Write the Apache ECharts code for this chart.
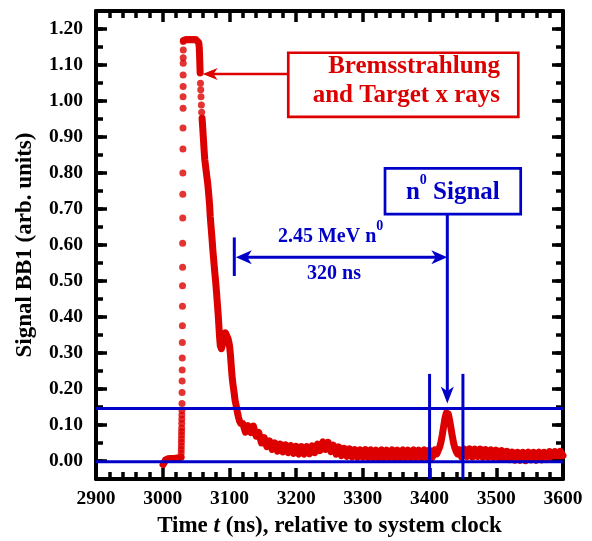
<!DOCTYPE html>
<html>
<head>
<meta charset="utf-8">
<script src="https://cdn.jsdelivr.net/npm/echarts@6/dist/echarts.min.js"></script>
<style>
  html, body { margin: 0; padding: 0; background: #fff; }
  #chart { width: 592px; height: 541px; }
</style>
</head>
<body>
<div id="chart"></div>
<script>
// ---- axes ----
const timeTicks = [2900, 3000, 3100, 3200, 3300, 3400, 3500, 3600];
const signalTicks = [0.00, 0.10, 0.20, 0.30, 0.40, 0.50, 0.60, 0.70, 0.80, 0.90, 1.00, 1.10, 1.20];

// ---- BB1 trace: [time (ns), signal (arb. units)] ----
// quiet level before the pulse
const baselineTrace = [
  [3000.5, -0.010], [3001.5, -0.012], [3002.5, -0.004], [3004, 0.003], [3006, 0.001],
  [3008, 0.006], [3010, 0.002], [3012, 0.007], [3014, 0.003], [3016, 0.007],
  [3018, 0.004], [3020, 0.008], [3022, 0.004], [3024, 0.008], [3026, 0.006], [3027.3, 0.010]
];
// fast rising edge (individual samples)
const risingEdge = [
  [3027.6, 0.012], [3027.7, 0.022], [3027.8, 0.032], [3027.9, 0.042], [3028.0, 0.052],
  [3028.1, 0.062], [3028.2, 0.072], [3028.3, 0.082], [3028.4, 0.092], [3028.5, 0.104],
  [3028.6, 0.116], [3028.7, 0.128], [3028.8, 0.140], [3028.9, 0.160], [3029.0, 0.190],
  [3029.1, 0.222], [3029.2, 0.253], [3029.3, 0.286], [3029.4, 0.329], [3029.5, 0.376],
  [3029.6, 0.430], [3029.7, 0.487], [3029.8, 0.538], [3029.9, 0.605], [3030.0, 0.675],
  [3030.1, 0.741], [3030.2, 0.800], [3030.3, 0.867], [3030.4, 0.925], [3030.5, 0.980],
  [3030.5, 1.012], [3030.6, 1.040], [3030.6, 1.072], [3030.7, 1.105], [3030.7, 1.120],
  [3030.8, 1.142], [3030.8, 1.165]
];
// saturated top and first drop
const plateauTrace = [
  [3031.2, 1.168], [3032.5, 1.170], [3035, 1.171], [3038, 1.170], [3041, 1.171],
  [3044, 1.170], [3047, 1.171], [3050, 1.170], [3052.5, 1.169], [3054, 1.162],
  [3054.8, 1.148], [3055.2, 1.130], [3055.5, 1.112], [3055.8, 1.095], [3056.1, 1.078]
];
// loose samples below the drop
const dropSamples = [
  [3056.6, 1.049], [3057.0, 1.031], [3057.4, 1.012], [3057.9, 0.989], [3058.4, 0.969]
];
// main decay
const decayTrace = [
  [3059, 0.952], [3060, 0.925], [3061, 0.895], [3062, 0.865], [3063, 0.838],
  [3064.5, 0.815], [3066, 0.792], [3067.5, 0.770], [3069, 0.740], [3070.3, 0.710],
  [3071.2, 0.680], [3072.5, 0.650], [3074, 0.615], [3075.2, 0.585], [3076.6, 0.555],
  [3078, 0.525], [3079.5, 0.495], [3080.8, 0.465], [3082, 0.435], [3083.2, 0.405],
  [3084.2, 0.375], [3085.2, 0.345], [3086.3, 0.320], [3088, 0.312], [3090, 0.326],
  [3092, 0.345], [3094, 0.356], [3096, 0.352], [3098, 0.340], [3100, 0.322],
  [3101.3, 0.300], [3102.3, 0.275], [3103.3, 0.250], [3104.3, 0.228], [3105.5, 0.210],
  [3107, 0.190], [3108.5, 0.168], [3110, 0.155], [3111, 0.146], [3112, 0.135],
  [3113.5, 0.122], [3115, 0.112], [3117, 0.104]
];
// noisy tail up to the neutron window
const tailTrace = [
  [3120, 0.104], [3124, 0.080], [3128, 0.098], [3132, 0.079], [3136, 0.097],
  [3140, 0.069], [3144, 0.079], [3148, 0.050], [3152, 0.065], [3156, 0.040],
  [3160, 0.056], [3164, 0.032], [3168, 0.050], [3172, 0.027], [3176, 0.047],
  [3180, 0.025], [3184, 0.045], [3188, 0.023], [3192, 0.043], [3196, 0.021],
  [3200, 0.041], [3204, 0.019], [3208, 0.040], [3212, 0.019], [3216, 0.040],
  [3220, 0.020], [3224, 0.042], [3228, 0.023], [3232, 0.047], [3236, 0.029],
  [3240, 0.053], [3244, 0.032], [3248, 0.052], [3252, 0.026], [3256, 0.044],
  [3260, 0.019], [3264, 0.039], [3268, 0.015], [3272, 0.035], [3276, 0.013],
  [3280, 0.034], [3284, 0.011], [3288, 0.032], [3292, 0.010], [3296, 0.031],
  [3300, 0.010], [3304, 0.032], [3308, 0.009], [3312, 0.031], [3316, 0.009],
  [3320, 0.030], [3324, 0.008], [3328, 0.031], [3332, 0.008], [3336, 0.030],
  [3340, 0.009], [3344, 0.031], [3348, 0.008], [3352, 0.030], [3356, 0.008],
  [3360, 0.031], [3364, 0.009], [3368, 0.030], [3372, 0.008], [3376, 0.031],
  [3380, 0.009], [3384, 0.030], [3388, 0.008], [3392, 0.031], [3396, 0.009],
  [3400, 0.030], [3404, 0.010], [3408, 0.031]
];
// neutron peak
const neutronPeak = [
  [3411, 0.020], [3413, 0.030], [3415, 0.038], [3417, 0.052], [3419, 0.072],
  [3421, 0.095], [3423, 0.118], [3425, 0.133], [3426.5, 0.138], [3428, 0.131],
  [3430, 0.114], [3432, 0.092], [3434, 0.070], [3436, 0.050], [3438, 0.036],
  [3440, 0.026], [3442, 0.020]
];
// tail after the peak
const lateTrace = [
  [3444, 0.032], [3448, 0.011], [3452, 0.033], [3456, 0.012], [3460, 0.034],
  [3464, 0.011], [3468, 0.033], [3472, 0.012], [3476, 0.033], [3480, 0.010],
  [3484, 0.032], [3488, 0.010], [3492, 0.031], [3496, 0.009], [3500, 0.030],
  [3504, 0.008], [3508, 0.029], [3512, 0.006], [3516, 0.027], [3520, 0.004],
  [3524, 0.025], [3528, 0.002], [3532, 0.024], [3536, 0.002], [3540, 0.024],
  [3544, 0.001], [3548, 0.025], [3552, 0.003], [3556, 0.024], [3560, 0.002],
  [3564, 0.025], [3568, 0.003], [3572, 0.024], [3576, 0.004], [3580, 0.026],
  [3584, 0.005], [3588, 0.026], [3592, 0.006], [3596, 0.027], [3600, 0.015]
];

// ---- annotation anchors (time ns, signal) ----
const thresholdLevel = 0.146;
const zeroLevel = -0.002;
const windowEdges = [3400, 3450];
const windowTop = 0.242;
const peakTime = 3426.6;
const flashTime = 3107.3;
const flightLevel = 0.566;
const flightBar = [0.514, 0.621];
const bremsBox = [3188.2, 1.134, 3533.0, 0.956];
const bremsArrow = [3059.9, 1.075];
const bremsTextRight = 3505.5;
const bremsLines = [['Bremsstrahlung', 1.095], ['and Target x rays', 1.014]];
const neutronBox = [3333.2, 0.813, 3536.6, 0.686];
const neutronArrowTip = 0.160;
const energyLabel = [3172.8, 0.623];
const delayLabel = [3256.8, 0.519];

const RED = '#dd0000';
const BLUE = '#0000c8';
const SERIF = '"Liberation Serif", "Times New Roman", serif';

const chart = echarts.init(document.getElementById('chart'));

const tickLabelStyle = () => ({ fontFamily: SERIF, fontWeight: 'bold', fontSize: 19.5, color: '#000' });

const traceLine = (data) => ({
  type: 'line', data, showSymbol: false, clip: false, z: 3,
  lineStyle: { color: RED, width: 7, cap: 'round', join: 'round' },
  itemStyle: { color: RED }
});

const timeAxis = (pos, labels) => ({
  type: 'value', position: pos, min: timeTicks[0], max: timeTicks[timeTicks.length - 1], interval: 100,
  axisLine: { show: true, onZero: false, lineStyle: { color: '#000', width: 4 } },
  axisTick: { show: true, inside: true, length: 11, lineStyle: { color: '#000', width: 3.5 } },
  minorTick: { show: true, splitNumber: 5, length: 7, lineStyle: { color: '#000', width: 3.5 } },
  axisLabel: labels ? Object.assign({ margin: 10, formatter: v => String(v) }, tickLabelStyle()) : { show: false },
  splitLine: { show: false }, minorSplitLine: { show: false }
});
const signalAxis = (pos, labels) => ({
  type: 'value', position: pos, min: -0.05, max: 1.25, interval: 0.05,
  axisLine: { show: true, onZero: false, lineStyle: { color: '#000', width: 4 } },
  axisTick: { show: true, inside: true, length: 7, lineStyle: { color: '#000', width: 3.5 } },
  axisLabel: labels ? Object.assign({ margin: 13,
    formatter: v => signalTicks.some(t => Math.abs(t - v) < 1e-6) ? v.toFixed(2) : '' }, tickLabelStyle()) : { show: false },
  splitLine: { show: false }
});

chart.setOption({
  animation: false,
  grid: { left: 96, right: 29, top: 11, bottom: 62, containLabel: false, outerBoundsMode: 'none' },
  xAxis: [
    Object.assign(timeAxis('bottom', true), {
      name: 'Time {i|t} (ns), relative to system clock',
      nameLocation: 'middle', nameGap: 36,
      nameTextStyle: {
        fontFamily: SERIF, fontWeight: 'bold', fontSize: 23, color: '#000',
        rich: { i: { fontFamily: SERIF, fontWeight: 'bold', fontStyle: 'italic', fontSize: 23, color: '#000' } }
      }
    }),
    timeAxis('top', false)
  ],
  yAxis: [
    Object.assign(signalAxis('left', true), {
      name: 'Signal BB1 (arb. units)', nameLocation: 'middle', nameRotate: 90, nameGap: 59,
      nameTextStyle: { fontFamily: SERIF, fontWeight: 'bold', fontSize: 23, color: '#000' }
    }),
    signalAxis('right', false)
  ],
  series: [
    traceLine(baselineTrace),
    traceLine(plateauTrace),
    traceLine(decayTrace.concat(tailTrace, neutronPeak, lateTrace)),
    {
      type: 'scatter', data: risingEdge.concat(dropSamples), symbol: 'circle', symbolSize: 7,
      itemStyle: { color: RED }, z: 3
    }
  ]
});

// ---- annotations, placed through the axes ----
const P = (t, v) => chart.convertToPixel({ xAxisIndex: 0, yAxisIndex: 0 }, [t, v]);
const measureCtx = document.createElement('canvas').getContext('2d');
const textWidth = (s, size) => { measureCtx.font = `bold ${size}px ${SERIF}`; return measureCtx.measureText(s).width; };

const g = [];
const line = (a, b, color, w) => g.push({ type: 'line', z: 10,
  shape: { x1: a[0], y1: a[1], x2: b[0], y2: b[1] }, style: { stroke: color, lineWidth: w } });
const box = (a, b, color) => g.push({ type: 'rect', z: 10,
  shape: { x: a[0], y: a[1], width: b[0] - a[0], height: b[1] - a[1] },
  style: { fill: null, stroke: color, lineWidth: 2.7 } });
const head = (tip, dir, len, wid, color) => {
  const [dx, dy] = dir, nx = -dy, ny = dx;
  const bx = tip[0] - dx * len, by = tip[1] - dy * len;
  g.push({ type: 'polygon', z: 11, shape: { points: [
    tip, [bx + nx * wid / 2, by + ny * wid / 2],
    [tip[0] - dx * len * 0.72, tip[1] - dy * len * 0.72],
    [bx - nx * wid / 2, by - ny * wid / 2]] }, style: { fill: color } });
};
const label = (s, x, y, size, color, align) => g.push({ type: 'text', z: 12,
  style: { text: s, x, y, fill: color, font: `bold ${size}px ${SERIF}`, align, verticalAlign: 'middle' } });
const supLabel = (main, sup, rest, x, y, size, supSize, rise, color) => {
  const w1 = textWidth(main, size), w2 = textWidth(sup, supSize);
  label(main, x, y, size, color, 'left');
  label(sup, x + w1, y - rise, supSize, color, 'left');
  if (rest) label(rest, x + w1 + w2, y, size, color, 'left');
};

// longer ticks at the labelled signal values, on both vertical frame edges
const xL = P(timeTicks[0], 0)[0], xR = P(timeTicks[timeTicks.length - 1], 0)[0];
signalTicks.forEach(v => {
  const y = P(timeTicks[0], v)[1];
  line([xL, y], [xL + 11, y], '#000', 3.5);
  line([xR, y], [xR - 11, y], '#000', 3.5);
});
const yBottom = P(timeTicks[0], -0.05)[1];

// threshold and zero lines
line([xL, P(timeTicks[0], thresholdLevel)[1]], [xR, P(timeTicks[0], thresholdLevel)[1]], BLUE, 3);
line([xL, P(timeTicks[0], zeroLevel)[1]], [xR, P(timeTicks[0], zeroLevel)[1]], BLUE, 3);
windowEdges.forEach(t => line([P(t, 0)[0], yBottom], P(t, windowTop), BLUE, 3));

// Bremsstrahlung callout
const rb1 = P(bremsBox[0], bremsBox[1]), rb2 = P(bremsBox[2], bremsBox[3]);
box(rb1, rb2, RED);
const ra = P(bremsArrow[0], bremsArrow[1]);
line([rb1[0], ra[1]], [ra[0] + 10, ra[1]], RED, 2.7);
head(ra, [-1, 0], 15, 12, RED);
bremsLines.forEach(([s, v]) => label(s, P(bremsTextRight, v)[0], P(bremsTextRight, v)[1], 25, RED, 'right'));

// n0 Signal callout
const nb1 = P(neutronBox[0], neutronBox[1]), nb2 = P(neutronBox[2], neutronBox[3]);
box(nb1, nb2, BLUE);
const nCx = (nb1[0] + nb2[0]) / 2, nCy = (nb1[1] + nb2[1]) / 2 + 1;
const nW = textWidth('n', 25) + textWidth('0', 14) + textWidth(' Signal', 25);
supLabel('n', '0', ' Signal', nCx - nW / 2, nCy, 25, 14, 12, BLUE);
const tipPx = P(peakTime, neutronArrowTip);
line([tipPx[0], nb2[1]], [tipPx[0], tipPx[1] - 12], BLUE, 3);
head(tipPx, [0, 1], 17, 13, BLUE);

// time of flight arrow
const fa = P(flashTime, flightLevel), fb = P(peakTime, flightLevel);
line([fa[0], P(flashTime, flightBar[0])[1]], [fa[0], P(flashTime, flightBar[1])[1]], BLUE, 3);
line([fa[0] + 10, fa[1]], [fb[0] - 10, fb[1]], BLUE, 3);
head([fa[0] + 1.5, fa[1]], [-1, 0], 16, 14, BLUE);
head(fb, [1, 0], 16, 14, BLUE);
const el = P(energyLabel[0], energyLabel[1]);
supLabel('2.45 MeV n', '0', '', el[0], el[1], 20, 14, 10, BLUE);
const dl = P(delayLabel[0], delayLabel[1]);
label('320 ns', dl[0], dl[1], 20, BLUE, 'center');

chart.setOption({ graphic: { elements: g } });
</script>
</body>
</html>
